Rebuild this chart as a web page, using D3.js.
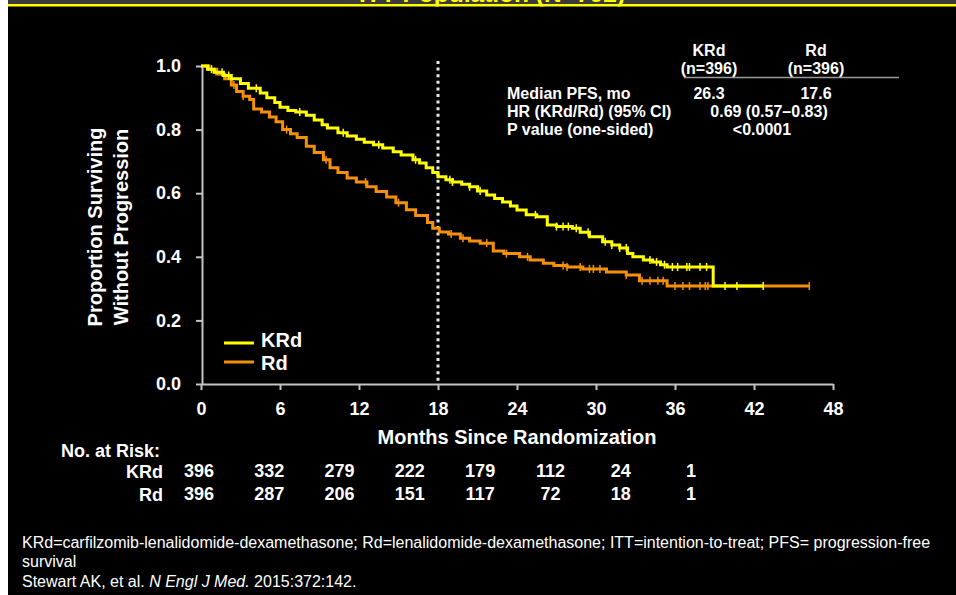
<!DOCTYPE html>
<html>
<head>
<meta charset="utf-8">
<script src="https://cdn.jsdelivr.net/npm/d3@7"></script>
<style>
  body { margin: 0; background: #000; }
  svg text { font-family: "Liberation Sans", Arial, sans-serif; fill: #fff; }
  .axis path, .axis line { stroke: #c4c4c4; stroke-width: 2; }
  .axis text { font-size: 18px; font-weight: bold; fill: #fff; }
</style>
</head>
<body>
<div id="chart"></div>
<script>
// x axis ticks (months) and y axis ticks (proportion)
const monthTicks = [0, 6, 12, 18, 24, 30, 36, 42, 48];
const propTicks = [0, 0.2, 0.4, 0.6, 0.8, 1.0];

// KRd Kaplan-Meier steps
const krdTimes = [0, 0.5, 1.0, 1.7, 2.3, 3.0, 3.6, 4.5, 5.0, 5.6, 6.0, 6.6, 7.2, 8.0, 8.6, 9.2, 9.6, 10.4, 11.1, 11.8,
  12.4, 13.1, 13.8, 14.6, 15.2, 16.1, 16.6, 17.1, 17.6, 18.0, 18.6, 19.1, 19.8, 20.4, 21.0, 21.7, 22.3, 22.9, 23.5,
  24.0, 24.7, 25.5, 26.3, 27.0, 28.2, 28.8, 29.5, 30.5, 31.2, 31.8, 32.4, 32.8, 33.6, 34.3, 34.9, 35.4, 38.9];
const krdSurv = [1.0, 0.99, 0.98, 0.97, 0.96, 0.945, 0.93, 0.915, 0.90, 0.885, 0.87, 0.86, 0.855, 0.845, 0.83, 0.815,
  0.805, 0.79, 0.78, 0.77, 0.76, 0.752, 0.742, 0.73, 0.72, 0.705, 0.695, 0.68, 0.665, 0.652, 0.642, 0.635, 0.628,
  0.62, 0.607, 0.594, 0.583, 0.572, 0.56, 0.547, 0.532, 0.526, 0.50, 0.495, 0.49, 0.477, 0.463, 0.447, 0.437, 0.428,
  0.41, 0.40, 0.39, 0.384, 0.375, 0.368, 0.308];
const krdCensor = [0.8, 1.6, 2.1, 4.2, 7.5, 10.8, 13.5, 16.3, 18.9, 19.1, 20.4, 21.2, 25.4, 27.0, 27.5, 27.9, 28.5,
  29.4, 30.7, 31.2, 31.8, 32.3, 34.1, 34.6, 35.2, 35.8, 36.2, 36.9, 37.1, 37.9, 38.4, 39.8, 40.7, 42.7];

// Rd Kaplan-Meier steps
const rdTimes = [0, 0.6, 1.2, 1.8, 2.3, 2.7, 3.2, 3.7, 4.0, 4.6, 5.2, 5.7, 6.2, 6.8, 7.3, 8.0, 8.6, 9.3, 9.8, 10.4,
  11.1, 11.8, 12.6, 13.3, 14.1, 14.8, 15.6, 16.3, 17.2, 17.6, 18.1, 18.8, 19.7, 20.4, 21.2, 22.2, 23.0, 24.2, 25.0,
  26.0, 26.8, 27.8, 29.0, 30.8, 32.3, 33.3, 35.4];
const rdSurv = [1.0, 0.99, 0.975, 0.96, 0.94, 0.92, 0.905, 0.895, 0.865, 0.855, 0.84, 0.825, 0.80, 0.787, 0.775,
  0.748, 0.728, 0.705, 0.68, 0.665, 0.648, 0.635, 0.62, 0.605, 0.588, 0.57, 0.548, 0.53, 0.508, 0.49, 0.478, 0.472,
  0.458, 0.45, 0.443, 0.418, 0.41, 0.40, 0.39, 0.38, 0.373, 0.368, 0.362, 0.352, 0.343, 0.325, 0.308];
const rdCensor = [2.5, 3.2, 6.5, 9.5, 12.5, 15.0, 19.0, 19.9, 21.7, 23.2, 24.8, 27.5, 27.8, 28.8, 29.5, 29.8, 30.3,
  32.3, 33.5, 34.1, 34.7, 35.1, 36.0, 36.6, 37.1, 37.9, 38.3, 38.5, 46.2];

// numbers at risk
const riskMonths = [0, 6, 12, 18, 24, 30, 36, 42];
const riskKRd = [396, 332, 279, 222, 179, 112, 24, 1];
const riskRd = [396, 287, 206, 151, 117, 72, 18, 1];

// summary table
const tableRows = [
  ["Median PFS, mo", "26.3", "17.6"],
  ["HR (KRd/Rd) (95% CI)", "0.69 (0.57\u20130.83)", null],
  ["P value (one-sided)", "<0.0001", null]
];

const YELLOW = "#ffff00";
const ORANGE = "#f5900a";

const W = 956, H = 595;
const svg = d3.select("#chart").append("svg")
  .attr("width", W).attr("height", H);

svg.append("rect").attr("width", W).attr("height", H).attr("fill", "#000");
// white strip on the left
svg.append("rect").attr("width", 8).attr("height", H).attr("fill", "#fff");

// top bar with cut-off title
svg.append("defs").append("clipPath").attr("id", "topclip")
  .append("rect").attr("x", 8).attr("y", 0).attr("width", W).attr("height", 6.5);
svg.append("rect").attr("x", 8).attr("y", 0).attr("width", W).attr("height", 4).attr("fill", "#3a3a3a");
svg.append("text")
  .attr("clip-path", "url(#topclip)")
  .attr("x", 492).attr("y", 2)
  .attr("text-anchor", "middle")
  .style("font-size", "24.5px").style("font-weight", "bold").style("fill", YELLOW)
  .text("ITT Population (N=792)");
svg.append("rect").attr("x", 8).attr("y", 4).attr("width", W).attr("height", 2.5).attr("fill", YELLOW);

// scales
const x = d3.scaleLinear().domain([0, 48]).range([201, 833]);
const y = d3.scaleLinear().domain([0, 1]).range([384, 66]);

// axes
svg.append("g")
  .attr("class", "axis")
  .attr("transform", `translate(0,${y(0)})`)
  .call(d3.axisBottom(x).tickValues(monthTicks).tickSize(6).tickSizeOuter(0).tickPadding(12));

svg.append("g")
  .attr("class", "axis")
  .attr("transform", `translate(${x(0) + 1},0)`)
  .call(d3.axisLeft(y).tickValues(propTicks).tickFormat(d3.format(".1f"))
    .tickSize(6).tickSizeOuter(0).tickPadding(15));

// axis titles
svg.append("text")
  .attr("x", 517).attr("y", 444)
  .attr("text-anchor", "middle")
  .style("font-size", "20px").style("font-weight", "bold")
  .text("Months Since Randomization");

const yTitle = svg.append("text")
  .attr("transform", "translate(102,227) rotate(-90)")
  .attr("text-anchor", "middle")
  .style("font-size", "20px").style("font-weight", "bold");
yTitle.append("tspan").attr("x", 0).attr("y", 0).text("Proportion Surviving");
yTitle.append("tspan").attr("x", 0).attr("y", 26).text("Without Progression");

// dotted line at 18 months
svg.append("line")
  .attr("x1", x(18)).attr("x2", x(18))
  .attr("y1", 61).attr("y2", y(0) - 2)
  .attr("stroke", "#e8e8e8").attr("stroke-width", 3)
  .attr("stroke-dasharray", "3,3.6");

// KM curves
function stepValue(times, surv, t) {
  let v = surv[0];
  for (let i = 0; i < times.length; i++) {
    if (times[i] <= t) v = surv[i];
  }
  return v;
}

const line = d3.line()
  .x(d => x(d[0]))
  .y(d => y(d[1]))
  .curve(d3.curveStepAfter);

function drawCurve(times, surv, censor, color) {
  const lastT = d3.max(censor);
  const pts = times.map((t, i) => [t, surv[i]]);
  pts.push([lastT, surv[surv.length - 1]]);

  const g = svg.append("g");
  g.append("path")
    .datum(pts)
    .attr("d", line)
    .attr("fill", "none")
    .attr("stroke", color)
    .attr("stroke-width", 3);

  g.selectAll("line.censor")
    .data(censor)
    .join("line")
    .attr("class", "censor")
    .attr("x1", d => x(d)).attr("x2", d => x(d))
    .attr("y1", d => y(stepValue(times, surv, d)) - 4)
    .attr("y2", d => y(stepValue(times, surv, d)) + 4)
    .attr("stroke", color)
    .attr("stroke-width", 1.5);
}

drawCurve(rdTimes, rdSurv, rdCensor, ORANGE);
drawCurve(krdTimes, krdSurv, krdCensor, YELLOW);

// legend
const legendItems = [
  { name: "KRd", color: YELLOW, y: 343 },
  { name: "Rd", color: ORANGE, y: 362 }
];
const legend = svg.selectAll("g.legend")
  .data(legendItems)
  .join("g")
  .attr("class", "legend");
legend.append("line")
  .attr("x1", 224).attr("x2", 254)
  .attr("y1", d => d.y).attr("y2", d => d.y)
  .attr("stroke", d => d.color).attr("stroke-width", 3);
legend.append("text")
  .attr("x", 261).attr("y", (d, i) => d.y + 4 + i * 4)
  .style("font-size", "20px").style("font-weight", "bold")
  .text(d => d.name);

// summary table at top right
const colKRd = 709, colRd = 816;
const tbl = svg.append("g").style("font-size", "16px").style("font-weight", "bold");
tbl.append("text").attr("x", colKRd).attr("y", 56).attr("text-anchor", "middle").text("KRd");
tbl.append("text").attr("x", colRd).attr("y", 56).attr("text-anchor", "middle").text("Rd");
tbl.append("text").attr("x", colKRd).attr("y", 74).attr("text-anchor", "middle").text("(n=396)");
tbl.append("text").attr("x", colRd).attr("y", 74).attr("text-anchor", "middle").text("(n=396)");
svg.append("line")
  .attr("x1", 684).attr("x2", 899).attr("y1", 77.5).attr("y2", 77.5)
  .attr("stroke", "#9a9a9a").attr("stroke-width", 1.5);

const rowY = [99, 117, 135];
tableRows.forEach((r, i) => {
  tbl.append("text").attr("x", 507).attr("y", rowY[i]).text(r[0]);
  if (r[2] !== null) {
    tbl.append("text").attr("x", colKRd).attr("y", rowY[i]).attr("text-anchor", "middle").text(r[1]);
    tbl.append("text").attr("x", colRd).attr("y", rowY[i]).attr("text-anchor", "middle").text(r[2]);
  } else {
    tbl.append("text").attr("x", i === 1 ? 769 : 762).attr("y", rowY[i]).attr("text-anchor", "middle").text(r[1]);
  }
});

// numbers at risk
const riskX = d3.scaleLinear().domain([0, 42]).range([199, 691]);
const risk = svg.append("g").style("font-size", "18px").style("font-weight", "bold");
risk.append("text").attr("x", 61).attr("y", 457).text("No. at Risk:");
risk.append("text").attr("x", 163).attr("y", 478).attr("text-anchor", "end").text("KRd");
risk.append("text").attr("x", 163).attr("y", 501).attr("text-anchor", "end").text("Rd");
risk.selectAll("text.krd")
  .data(riskMonths)
  .join("text")
  .attr("class", "krd")
  .attr("x", d => riskX(d)).attr("y", 477)
  .attr("text-anchor", "middle")
  .text((d, i) => riskKRd[i]);
risk.selectAll("text.rd")
  .data(riskMonths)
  .join("text")
  .attr("class", "rd")
  .attr("x", d => riskX(d)).attr("y", 500)
  .attr("text-anchor", "middle")
  .text((d, i) => riskRd[i]);

// footnotes
const foot = svg.append("g").style("font-size", "16px");
foot.append("text").attr("x", 22).attr("y", 548)
  .text("KRd=carfilzomib-lenalidomide-dexamethasone; Rd=lenalidomide-dexamethasone; ITT=intention-to-treat; PFS= progression-free");
foot.append("text").attr("x", 22).attr("y", 567).text("survival");
const ref = foot.append("text").attr("x", 22).attr("y", 587);
ref.append("tspan").text("Stewart AK, et al. ");
ref.append("tspan").style("font-style", "italic").text("N Engl J Med.");
ref.append("tspan").text(" 2015:372:142.");
</script>
</body>
</html>
